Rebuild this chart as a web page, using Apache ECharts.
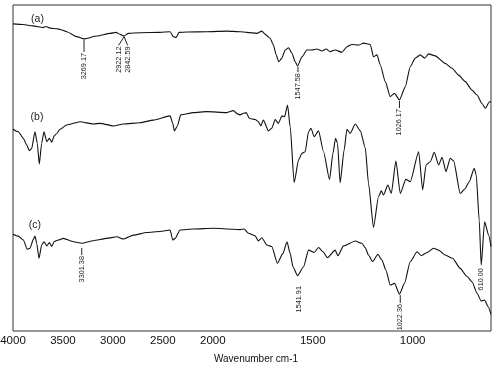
<!DOCTYPE html>
<html><head><meta charset="utf-8">
<script src="https://cdn.jsdelivr.net/npm/echarts@6/dist/echarts.min.js"></script>
<style>html,body{margin:0;padding:0;background:#fff}#c{width:500px;height:368px}</style>
</head><body><div id="c"></div>
<script>
// FTIR spectra: [wavenumber cm-1, transmittance (offset, a.u.)]
const traceA = [[4000,94.2],[3900,94.0],[3800,93.6],[3700,93.1],[3670,93.4],[3629,92.9],[3560,92.7],[3529,92.5],[3462,91.8],[3362,90.3],[3289,89.6],[3162,90.5],[3028,91.3],[2968,91.6],[2928,91.0],[2888,90.5],[2845,91.3],[2728,91.5],[2528,91.6],[2428,91.8],[2395,90.3],[2368,90.0],[2338,91.6],[2260,91.7],[2060,91.8],[1930,92.0],[1863,91.8],[1830,91.6],[1780,91.3],[1755,92.0],[1738,91.0],[1713,89.8],[1697,87.7],[1683,84.7],[1670,82.6],[1655,83.7],[1638,86.2],[1621,86.9],[1604,85.2],[1588,82.6],[1576,81.3],[1554,84.1],[1529,86.2],[1504,86.2],[1479,86.5],[1454,85.9],[1433,86.5],[1413,85.7],[1388,86.2],[1354,85.5],[1329,87.2],[1304,87.9],[1271,87.7],[1246,88.3],[1212,87.9],[1196,84.1],[1179,84.7],[1162,81.6],[1137,76.5],[1112,71.9],[1091,72.9],[1066,70.9],[1037,74.9],[1012,81.1],[987,83.7],[962,84.7],[940,83.7],[920,85.0],[887,84.4],[837,82.1],[803,80.6],[770,78.5],[737,76.5],[703,73.9],[678,72.4],[653,69.8],[636,68.3],[616,70.3],[608,70.2]];
const traceB = [[4000,61.9],[3947,61.1],[3897,59.1],[3863,57.1],[3837,55.3],[3813,56.0],[3780,61.1],[3757,57.6],[3737,51.2],[3713,57.6],[3690,61.1],[3662,58.1],[3636,59.1],[3612,57.9],[3589,59.8],[3562,60.6],[3529,61.9],[3462,63.2],[3329,64.2],[3196,63.5],[3129,63.7],[2995,62.9],[2895,63.5],[2728,63.9],[2595,64.7],[2428,66.0],[2401,63.7],[2385,61.4],[2355,62.9],[2321,66.3],[2194,67.0],[2060,67.3],[1930,67.0],[1897,67.6],[1877,66.6],[1863,66.3],[1847,66.8],[1833,67.0],[1817,65.2],[1788,64.9],[1772,64.2],[1760,62.9],[1747,64.7],[1722,61.4],[1705,62.2],[1688,64.9],[1672,63.7],[1654,66.0],[1641,65.7],[1626,69.3],[1613,62.7],[1593,45.5],[1571,52.5],[1554,54.5],[1538,55.0],[1521,61.1],[1509,62.2],[1493,59.6],[1471,61.4],[1446,55.0],[1416,46.5],[1399,54.5],[1386,59.1],[1376,57.6],[1363,45.5],[1343,55.5],[1329,61.9],[1313,60.6],[1287,63.5],[1262,61.4],[1237,56.1],[1221,45.3],[1196,31.8],[1171,41.2],[1157,43.0],[1146,41.7],[1124,44.8],[1107,42.2],[1084,52.1],[1062,42.2],[1034,46.5],[1012,45.8],[970,55.0],[950,43.3],[933,50.9],[912,51.9],[892,54.8],[870,50.9],[853,53.3],[833,48.9],[812,53.0],[795,52.2],[762,42.2],[740,43.5],[717,45.8],[692,49.9],[682,47.9],[667,34.0],[657,20.2],[640,33.5],[620,29.4],[608,25.9]];
const traceC = [[4000,29.7],[3947,29.1],[3897,27.9],[3857,25.1],[3830,25.4],[3797,28.1],[3780,29.1],[3763,26.9],[3740,22.3],[3713,26.4],[3690,27.4],[3662,26.1],[3636,27.1],[3612,25.9],[3589,27.4],[3546,27.9],[3496,28.4],[3396,27.4],[3312,26.9],[3196,27.7],[3062,28.4],[2961,28.9],[2895,28.2],[2795,29.4],[2661,30.2],[2528,30.5],[2428,31.0],[2401,27.9],[2378,28.4],[2328,31.0],[2194,31.3],[1997,31.5],[1897,31.2],[1863,31.1],[1843,31.3],[1822,30.0],[1788,29.2],[1772,27.6],[1755,28.6],[1730,26.4],[1705,25.9],[1677,20.8],[1649,23.8],[1629,27.4],[1613,23.8],[1599,19.7],[1576,17.0],[1546,19.7],[1521,24.8],[1493,24.1],[1471,25.6],[1449,24.3],[1426,22.5],[1388,24.8],[1374,23.1],[1346,26.1],[1287,27.6],[1254,26.9],[1237,25.5],[1221,23.3],[1201,21.3],[1174,23.5],[1154,21.8],[1134,18.7],[1112,14.1],[1091,14.6],[1066,11.3],[1041,14.6],[1012,21.3],[978,24.3],[957,23.1],[928,24.1],[895,25.4],[870,24.8],[837,23.3],[800,22.3],[762,19.2],[728,16.7],[703,15.1],[678,11.6],[657,9.2],[640,9.5],[623,7.5],[608,5.1]];

const traceNames = ['(a)', '(b)', '(c)'];
const traceNameAt = [[3755, 95.8], [3760, 65.7], [3780, 32.5]];

const tickLabels = [4000, 3500, 3000, 2500, 2000, 1500, 1000];
const axisTitle = 'Wavenumber cm-1';

// peak annotations
const peakText = ['3269.17', '2922.12', '2842.59', '1547.58', '1026.17', '3301.38', '1541.91', '1022.36', '610.00'];
const peakFrom = [3289, 2888, 2888, 1574, 1066, 3312, 1568, 1062, 657];
const peakAt   = [3289, 2943, 2853, 1574, 1066, 3312, 1568, 1062, 657];
const peakTop  = [89.3, 90.3, 90.3, 81.1, 70.6, 25.5, 14.1, 11.0, 19.6];
const peakEnd  = [85.6, 87.6, 87.6, 79.4, 68.4, 23.3, 14.1, 8.6, 19.6];

const W_END = 608;
// split-scale wavenumber axis (region below 2000 cm-1 expanded x2)
function toU(w) { return w >= 2000 ? 4000 - w : 2000 + 2 * (2000 - w); }
function fromU(u) { return u <= 2000 ? 4000 - u : 2000 - (u - 2000) / 2; }

const FONT = 'Liberation Sans';
const INK = '#111';

function lineSeries(tr) {
  return {
    type: 'line', data: tr.map(p => [toU(p[0]), p[1]]),
    symbol: 'none', showSymbol: false, smooth: 0.2, smoothMonotone: 'x',
    lineStyle: { color: INK, width: 1.1 }, silent: true, z: 3
  };
}

const chart = echarts.init(document.getElementById('c'), null, { renderer: 'canvas' });
chart.setOption({
  animation: false,
  backgroundColor: '#fff',
  grid: { left: 13, right: 9, top: 5, bottom: 37, show: true, borderColor: '#333', borderWidth: 1, outerBoundsMode: 'none' },
  xAxis: {
    type: 'value', min: 0, max: toU(W_END), interval: 500,
    axisLine: { show: false }, axisTick: { show: false }, splitLine: { show: false },
    axisLabel: {
      margin: 4, fontSize: 11.5, fontFamily: FONT, color: '#111',
      showMinLabel: true, showMaxLabel: true,
      formatter: v => { const w = Math.round(fromU(v)); return tickLabels.includes(w) ? String(w) : ''; }
    },
    name: axisTitle, nameLocation: 'middle', nameGap: 23,
    nameTextStyle: { fontSize: 10, fontFamily: FONT, color: '#111', padding: [0, 0, 0, 8] }
  },
  yAxis: { type: 'value', min: 0, max: 100, show: false },
  series: [
    lineSeries(traceA), lineSeries(traceB), lineSeries(traceC),
    {
      type: 'custom', silent: true, clip: false, z: 5,
      data: peakAt.map((w, i) => [toU(w), peakEnd[i], toU(peakFrom[i]), peakTop[i]]),
      encode: { x: [0, 2], y: [1, 3] },
      renderItem: (params, api) => {
        const i = params.dataIndex;
        const a = api.coord([api.value(2), api.value(3)]);
        const b = api.coord([api.value(0), api.value(1)]);
        const children = [];
        if (Math.abs(b[1] - a[1]) > 0.5) {
          children.push({ type: 'line', shape: { x1: a[0], y1: a[1], x2: b[0], y2: b[1] }, style: { stroke: '#222', lineWidth: 1 } });
        }
        children.push({ type: 'text', x: b[0], y: b[1] + 1, rotation: Math.PI / 2,
          style: { text: peakText[i], fill: '#222', fontSize: 7.3, fontFamily: FONT, align: 'right', verticalAlign: 'middle' } });
        return { type: 'group', children };
      }
    },
    {
      type: 'custom', silent: true, clip: false, z: 5,
      data: traceNameAt.map(p => [toU(p[0]), p[1]]),
      renderItem: (params, api) => {
        const c = api.coord([api.value(0), api.value(1)]);
        return { type: 'text', x: c[0], y: c[1],
          style: { text: traceNames[params.dataIndex], fill: '#222', fontSize: 10.5, fontFamily: FONT, align: 'center', verticalAlign: 'middle' } };
      }
    }
  ]
});
</script></body></html>
